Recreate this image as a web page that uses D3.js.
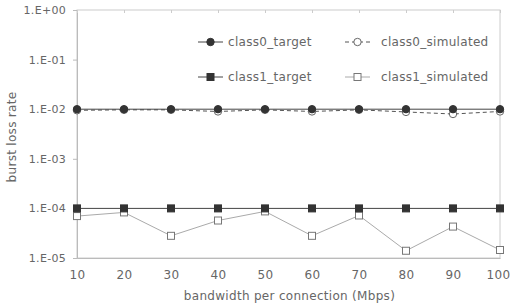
<!DOCTYPE html>
<html>
<head>
<meta charset="utf-8">
<script src="https://cdn.jsdelivr.net/npm/d3@7"></script>
<style>
  body { margin: 0; background: #fff; }
  text { font-family: "DejaVu Sans", sans-serif; fill: #666; letter-spacing: 0.3px; }
</style>
</head>
<body>
<div id="chart"></div>
<script>
// data
const bandwidth = [10, 20, 30, 40, 50, 60, 70, 80, 90, 100];
const class0Target = [0.01, 0.01, 0.01, 0.01, 0.01, 0.01, 0.01, 0.01, 0.01, 0.01];
const class0Simulated = [0.0095, 0.0097, 0.0097, 0.009, 0.0097, 0.009, 0.0097, 0.0088, 0.008, 0.009];
const class1Target = [1e-4, 1e-4, 1e-4, 1e-4, 1e-4, 1e-4, 1e-4, 1e-4, 1e-4, 1e-4];
const class1Simulated = [7e-5, 8.3e-5, 2.8e-5, 5.7e-5, 8.7e-5, 2.8e-5, 7.2e-5, 1.4e-5, 4.3e-5, 1.45e-5];
const yTicks = [1, 1e-1, 1e-2, 1e-3, 1e-4, 1e-5];
const yTickLabels = ["1.E+00", "1.E-01", "1.E-02", "1.E-03", "1.E-04", "1.E-05"];

const margin = {top: 10, right: 10, bottom: 45, left: 77};
const width = 500 - margin.left;
const height = 258 - margin.top;

const svg = d3.select("#chart").append("svg")
    .attr("width", 510)
    .attr("height", 303)
    .append("g")
    .attr("transform", "translate(" + margin.left + "," + margin.top + ")");

const x = d3.scaleLinear().domain([10, 100]).range([0, width]);
const y = d3.scaleLog().domain([1e-5, 1]).range([height, 0]);

// frame
svg.append("rect")
    .attr("width", width).attr("height", height)
    .attr("fill", "none").attr("stroke", "#ccc").attr("stroke-width", 1);

// y axis
const yAxis = d3.axisLeft(y).tickValues(yTicks)
    .tickFormat((d, i) => yTickLabels[i]).tickSize(4).tickPadding(7);
const gy = svg.append("g").call(yAxis);
gy.select(".domain").attr("stroke", "#bbb");
gy.selectAll(".tick line").attr("stroke", "#bbb");
gy.selectAll("text").style("font-size", "11px").attr("fill", "#666");

// x axis
const xAxis = d3.axisBottom(x).tickValues(bandwidth).tickSize(0).tickPadding(12);
const gx = svg.append("g").attr("transform", "translate(0," + height + ")").call(xAxis);
gx.select(".domain").attr("stroke", "#bbb");
gx.selectAll("text").style("font-size", "12px").attr("fill", "#666");
gx.selectAll(".tick").filter(d => d === 100).select("text").attr("dx", -2);

// small ticks on top border
svg.append("g").call(d3.axisTop(x).tickValues(bandwidth).tickSize(-3).tickFormat(""))
    .call(g => g.select(".domain").remove())
    .selectAll(".tick line").attr("stroke", "#ccc");

// axis labels
svg.append("text")
    .attr("transform", "rotate(-90)")
    .attr("x", -height / 2 - 3).attr("y", -margin.left + 16)
    .attr("text-anchor", "middle")
    .style("font-size", "12px")
    .text("burst loss rate");

svg.append("text")
    .attr("x", width / 2 + 1).attr("y", height + 42)
    .attr("text-anchor", "middle")
    .style("font-size", "12px")
    .text("bandwidth per connection (Mbps)");

const line = d3.line().x((d, i) => x(bandwidth[i])).y(d => y(d));

const series = [
    {name: "class1_simulated", data: class1Simulated, stroke: "#aaa", dash: null, shape: "square", fill: "#fff", mstroke: "#777"},
    {name: "class1_target", data: class1Target, stroke: "#444", dash: null, shape: "square", fill: "#333", mstroke: "#333"},
    {name: "class0_simulated", data: class0Simulated, stroke: "#555", dash: "4,3", shape: "circle", fill: "#fff", mstroke: "#666"},
    {name: "class0_target", data: class0Target, stroke: "#444", dash: null, shape: "circle", fill: "#333", mstroke: "#333"}
];

function drawMarker(g, shape, cx, cy, fill, stroke) {
    if (shape === "circle") {
        g.append("circle").attr("cx", cx).attr("cy", cy).attr("r", 3.7)
            .attr("fill", fill).attr("stroke", stroke).attr("stroke-width", 1);
    } else {
        g.append("rect").attr("x", cx - 3.5).attr("y", cy - 3.5)
            .attr("width", 7).attr("height", 7)
            .attr("fill", fill).attr("stroke", stroke).attr("stroke-width", 1);
    }
}

series.forEach(s => {
    svg.append("path")
        .attr("d", line(s.data))
        .attr("fill", "none")
        .attr("stroke", s.stroke)
        .attr("stroke-width", 1)
        .attr("stroke-dasharray", s.dash);
    const g = svg.append("g");
    s.data.forEach((v, i) => drawMarker(g, s.shape, x(bandwidth[i]), y(v), s.fill, s.mstroke));
});

// legend
const legendItems = [
    {name: "class0_target", col: 0, row: 0, s: series[3]},
    {name: "class0_simulated", col: 1, row: 0, s: series[2]},
    {name: "class1_target", col: 0, row: 1, s: series[1]},
    {name: "class1_simulated", col: 1, row: 1, s: series[0]}
];
const legend = svg.append("g");
legendItems.forEach(d => {
    const lx = d.col === 0 ? 121 : 268;
    const ly = d.row === 0 ? 32 : 67;
    const g = legend.append("g");
    g.append("line").attr("x1", lx).attr("x2", lx + 25).attr("y1", ly).attr("y2", ly)
        .attr("stroke", d.s.stroke).attr("stroke-width", 1)
        .attr("stroke-dasharray", d.s.dash);
    drawMarker(g, d.s.shape, lx + 12.5, ly, d.s.fill, d.s.mstroke);
    g.append("text").attr("x", lx + 30 + d.col * 6).attr("y", ly + 4)
        .style("font-size", "12px").text(d.name);
});
</script>
</body>
</html>
